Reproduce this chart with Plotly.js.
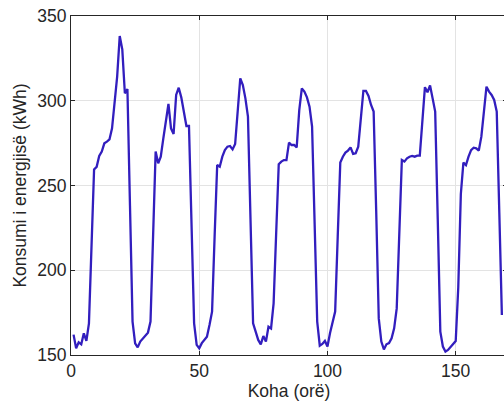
<!DOCTYPE html>
<html>
<head>
<meta charset="utf-8">
<script src="https://cdn.plot.ly/plotly-3.0.1.min.js"></script>
<style>
html,body{margin:0;padding:0;overflow:hidden;background:#fff;}
#chart{width:507px;height:407px;}
</style>
</head>
<body>
<div id="chart"></div>
<script>
// Hourly energy consumption (kWh), hours 1..168
var consumption = [
  162, 154, 157.5, 156.3, 162.8, 158.3, 168.7, 215, 259.5, 261, 267.4, 270,
  274.9, 275.9, 277.2, 283.7, 299.5, 314.2, 338.2, 330.3, 304.4, 306.9, 238, 169.7,
  156.9, 154.5, 157.9, 159.8, 161.2, 163.2, 169.7, 220, 270, 263.1, 267, 277.8,
  288.6, 298.1, 283.7, 280.4, 303.4, 307.7, 302, 294.5, 285.1, 285.1, 228, 168.7,
  156, 154, 157, 158.9, 160.8, 167.7, 175.6, 220, 262.1, 261.1, 267, 270.9,
  272.9, 273.3, 271.3, 274.5, 295.5, 313.2, 309.3, 301.4, 290.6, 230, 168.7, 163.8,
  158.9, 156.3, 161.2, 157.9, 166.7, 165.7, 180.5, 222, 262.5, 264.1, 265, 265,
  275.3, 273.9, 273.9, 272.5, 294.5, 307.3, 305.4, 302, 296.5, 284.7, 230, 169.7,
  155.5, 156.5, 158.3, 155, 163, 170, 175.6, 220, 263.5, 267, 269.4, 270.6,
  272.5, 268.6, 269, 272.9, 288.6, 305.8, 305.8, 302.8, 297.5, 293.6, 235, 171.6,
  157.9, 153.3, 156.3, 157, 159.8, 165.7, 177.5, 222, 265, 264.1, 266, 267,
  267.4, 267, 267.6, 267.6, 290, 308, 305, 309, 301.4, 293.6, 230, 163.8,
  155, 152, 153, 155, 157, 158.3, 190, 245, 263.5, 262, 267, 270.9,
  272.3, 271.9, 270.6, 278.8, 293.6, 308.3, 305.4, 303.4, 300.5, 293.6, 234, 173.6
];
var hours = consumption.map(function(_, i){ return i + 1; });
var xTicks = [0, 50, 100, 150];
var yTicks = [150, 200, 250, 300, 350];
var xTitle = 'Koha (orë)';
var yTitle = 'Konsumi i energjisë (kWh)';

var axisColor = '#262626';
var fontFam = '"Liberation Sans", Arial, Helvetica, sans-serif';

var trace = {
  x: hours, y: consumption, type: 'scatter', mode: 'lines',
  line: {color: 'rgb(50,30,190)', width: 2.3},
  hoverinfo: 'x+y'
};

var layout = {
  width: 507, height: 407,
  margin: {l: 71, r: 0, t: 16, b: 52},
  paper_bgcolor: '#fff', plot_bgcolor: '#fff',
  showlegend: false,
  font: {family: fontFam, size: 18, color: axisColor},
  xaxis: {
    range: [0, 170], tickvals: xTicks, ticktext: xTicks.map(String),
    ticks: 'inside', ticklen: 4, tickcolor: axisColor, tickwidth: 1,
    showline: true, linecolor: axisColor, linewidth: 1, mirror: 'ticks',
    showgrid: true, gridcolor: '#e3e3e3', gridwidth: 1, zeroline: false,
    tickfont: {size: 17.5, color: axisColor},
    title: {text: xTitle, font: {size: 17.5, color: axisColor}, standoff: 4}
  },
  yaxis: {
    range: [150, 350], tickvals: yTicks, ticktext: yTicks.map(String),
    ticks: 'inside', ticklen: 4, tickcolor: axisColor, tickwidth: 1,
    showline: true, linecolor: axisColor, linewidth: 1, mirror: 'ticks',
    showgrid: true, gridcolor: '#e3e3e3', gridwidth: 1, zeroline: false,
    tickfont: {size: 17.5, color: axisColor},
    title: {text: yTitle, font: {size: 17.5, color: axisColor}, standoff: 6}
  }
};

Plotly.newPlot('chart', [trace], layout, {displayModeBar: false, staticPlot: true});
</script>
</body>
</html>
